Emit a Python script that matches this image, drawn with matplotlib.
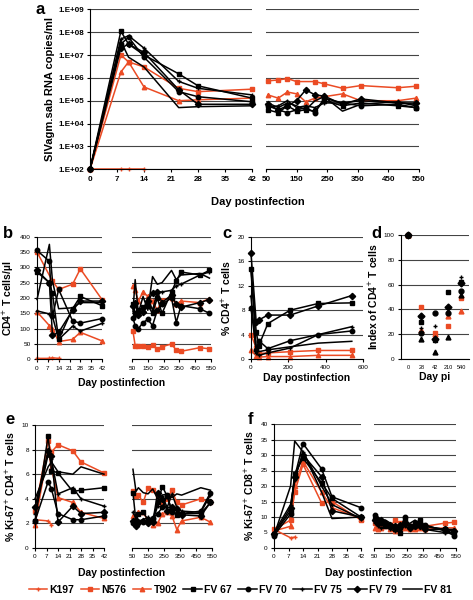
import numpy as np
import matplotlib
matplotlib.use('Agg')
import matplotlib.pyplot as plt

plt.rcParams['font.family'] = ['Liberation Sans', 'DejaVu Sans']

W, H = 473, 600
ORANGE = '#EB4B24'

animals = ['K197', 'N576', 'T902', 'FV 67', 'FV 70', 'FV 75', 'FV 79', 'FV 81']
colors = [ORANGE, ORANGE, ORANGE, 'black', 'black', 'black', 'black', 'black']
markers = ['+', 's', '^', 's', 'o', '+', 'D', '']
nan = np.nan

# ---- panel a: viral load (RNA copies/ml) ----
a_days_left = [0, 8, 10, 14, 23, 28, 42]
a_left = {
    'K197': [1e2, 1e2, 1e2, 1e2, nan, nan, nan],
    'N576': [1e2, 1e7, 5e6, 3e6, 3.5e5, 2.5e5, 3.2e5],
    'T902': [1e2, 1.8e6, 5e6, 4e5, 1e5, 1.1e5, 1.3e5],
    'FV 67': [1e2, 1.1e8, 3e7, 1e7, 1.5e6, 4.5e5, 1.3e5],
    'FV 70': [1e2, 3e7, 6e7, 8e6, 2.5e5, 1.5e5, 9e4],
    'FV 75': [1e2, 5e7, 7e7, 2e7, 7e5, 3.5e5, 1.8e5],
    'FV 79': [1e2, 2e7, 3e7, 1.3e7, 3e5, 7e4, 7e4],
    'FV 81': [1e2, 4e7, 8e6, 3e6, 5e4, 5.5e4, 6e4],
}
a_days_right = [56, 90, 120, 150, 180, 210, 240, 300, 360, 480, 540]
a_right = {
    'N576': [7.4e5, 8.1e5, 9.3e5, 6.9e5, nan, 6.9e5, 5.5e5, 3.5e5, 4.6e5, 3.7e5, 4.3e5],
    'T902': [1.8e5, 1.3e5, 2.4e5, 2e5, 9e4, 1.3e5, 1.5e5, 2e5, 1e5, 1e5, 1.3e5],
    'FV 67': [4e4, 3e4, 6e4, 3.5e4, 4e4, 3.5e4, 1e5, 6e4, 8e4, 6e4, 5e4],
    'FV 70': [6e4, 4e4, 3e4, 4e4, 5e4, 3e4, 1.3e5, 8e4, 6e4, 7e4, 5e4],
    'FV 75': [5e4, 6e4, 1e5, 5e4, 6e4, 5e4, 8e4, 8e4, 1e5, 8e4, 7e4],
    'FV 79': [7e4, 4e4, 6e4, 1e5, 3e5, 1.8e5, 1.6e5, 7e4, 1.2e5, 8e4, 8e4],
    'FV 81': [8e4, 5e4, 8e4, 6e4, 4e4, 1e5, 1.5e5, 3.5e4, 7e4, 9e4, 6e4],
}
a_yticks = [1e2, 1e3, 1e4, 1e5, 1e6, 1e7, 1e8, 1e9]
a_yticklabels = ['1.E+02', '1.E+03', '1.E+04', '1.E+05', '1.E+06', '1.E+07', '1.E+08', '1.E+09']

# ---- panel b: CD4 counts ----
b_days_left = [0, 8, 10, 14, 23, 28, 42]
b_left = {
    'K197': [3, 3, 5, 3, nan, nan, nan],
    'N576': [350, nan, 255, 228, 245, 295, 195],
    'T902': [155, 110, 100, 58, 65, 88, 60],
    'FV 67': [285, 250, 215, 65, 165, 205, 175],
    'FV 70': [355, 320, 140, 228, 125, 118, 133],
    'FV 75': [158, 148, 140, 65, 108, 92, 117],
    'FV 79': [290, 250, 78, 88, 160, 190, 190],
    'FV 81': [195, 375, 255, 165, 168, 185, 185],
}
b_days_right = [56, 70, 90, 120, 150, 180, 210, 240, 300, 330, 360, 480, 540]
b_right = {
    'N576': [92, 45, 42, 42, 40, 46, 33, 41, 50, 30, 26, 38, 34],
    'T902': [240, 225, 190, 220, 205, 190, 160, 195, 200, 180, 190, 185, 198],
    'FV 67': [180, 150, 160, 170, 175, 150, 200, 150, 220, 255, 285, 275, 290],
    'FV 70': [135, 110, 100, 120, 130, 110, 160, 180, 200, 120, 175, 165, 150],
    'FV 75': [180, 140, 150, 160, 200, 160, 220, 220, 225, 240, 245, 275, 285],
    'FV 79': [175, 185, 145, 155, 190, 215, 220, 185, 210, 180, 170, 185, 195],
    'FV 81': [155, 260, 150, 205, 160, 270, 245, 250, 290, 260, 275, 280, 265],
}

# ---- panel c: % CD4 T cells ----
c_days = [0, 28, 42, 90, 210, 360, 540]
c_vals = {
    'N576': [4.0, 1.8, 0.9, 1.0, 1.2, 1.4, 1.4],
    'T902': [1.4, 0.5, 0.3, 0.4, 0.4, 0.6, 0.6],
    'FV 67': [14.8, 4.4, 2.2, 5.8, 8.0, 9.1, 9.2],
    'FV 70': [8.3, 1.5, 3.0, 1.7, 3.0, 4.0, 4.6],
    'FV 75': [10.3, 1.0, 0.6, 1.0, 1.8, 4.0, 5.3],
    'FV 79': [17.3, 6.0, 6.4, 7.2, 7.2, 8.7, 10.4],
    'FV 81': [14.5, 2.0, 1.2, 1.5, 2.0, 2.6, 2.9],
}

# ---- panel d: index of CD4 T cells ----
d_cats = ['0', '28', '42', '210', '540']
d_vals = {
    'N576': [100, 42, 21, 27, 49],
    'T902': [100, 23, 20, 35, 39],
    'FV 67': [100, 30, 15, 54, 62],
    'FV 70': [100, 21, 37, 37, 55],
    'FV 75': [100, 25, 27, 42, 66],
    'FV 79': [100, 35, 16, 42, 61],
    'FV 81': [100, 16, 6, 18, 52],
}

# ---- panel e: % Ki-67+ CD4+ ----
e_days_left = [0, 8, 10, 14, 23, 28, 42]
e_left = {
    'K197': [2.3, 2.2, 1.9, nan, nan, nan, nan],
    'N576': [3.0, 8.7, 7.8, 8.4, 7.9, 7.0, 6.1],
    'T902': [1.9, 8.0, 6.5, 4.1, 3.7, 2.9, 2.4],
    'FV 67': [2.2, 9.1, 6.3, 6.1, 4.6, 4.7, 4.9],
    'FV 70': [2.2, 5.4, 4.8, 2.8, 2.3, 2.3, 2.6],
    'FV 75': [2.8, 7.6, 7.2, 4.4, 4.9, 4.0, 3.4],
    'FV 79': [3.3, 7.9, 7.5, 2.1, 3.4, 2.8, 2.9],
    'FV 81': [4.0, 6.6, 7.0, 6.2, 6.0, 6.6, 6.0],
}
ef_days_right = [56, 75, 90, 120, 150, 180, 210, 240, 270, 300, 330, 360, 480, 540]
e_right = {
    'N576': [4.6, 4.2, 4.3, 3.7, 4.9, 4.7, 4.2, 3.5, 4.0, 4.7, 3.7, 3.5, 4.0, 3.7],
    'T902': [2.6, 2.3, 2.9, 2.9, 2.2, 1.9, 2.0, 2.8, 2.9, 2.6, 1.5, 2.2, 2.5, 2.1],
    'FV 67': [4.5, 2.1, 2.8, 2.9, 2.3, 2.3, 3.7, 5.0, 4.2, 3.0, 2.7, 2.8, 2.8, 3.7],
    'FV 70': [2.0, 2.2, 2.0, 2.1, 2.1, 2.4, 2.8, 3.3, 4.3, 2.9, 2.8, 2.8, 3.0, 4.5],
    'FV 75': [2.9, 2.4, 2.2, 2.3, 2.5, 2.2, 3.4, 4.2, 3.3, 4.4, 3.3, 3.0, 2.9, 4.3],
    'FV 79': [2.2, 1.8, 2.1, 2.2, 2.0, 2.1, 4.5, 4.0, 3.0, 3.3, 3.2, 2.7, 2.6, 3.7],
    'FV 81': [6.4, 4.6, 4.9, 4.5, 4.4, 4.8, 4.0, 4.3, 4.4, 4.1, 4.4, 4.3, 4.9, 4.7],
}

# ---- panel f: % Ki-67+ CD8+ ----
f_days_left = [0, 8, 10, 14, 23, 28, 42]
f_left = {
    'K197': [6, 3.3, 3.5, nan, nan, nan, nan],
    'N576': [6, 9, 18, 27, 14.5, 15, 9],
    'T902': [5.5, 7, 20, 28, 18, 13, 9.5],
    'FV 67': [4.5, 12, 24, 29, 21, 16, 10],
    'FV 70': [4, 11, 23, 33.7, 25.5, 16.5, 13],
    'FV 75': [5, 14, 22, 31, 20, 14, 9.5],
    'FV 79': [4.5, 13, 23, 30, 23, 12, 10],
    'FV 81': [4, 20, 34.5, 31, 18, 9.5, 10],
}
f_right = {
    'N576': [8, 7, 7.5, 8, 7, 9, 8, 7.5, 7, 6.5, 7, 7, 8, 8.3],
    'T902': [6.5, 6, 6.5, 7, 6, 5.5, 6, 6.5, 6, 6, 6.5, 6, 6.5, 6.5],
    'FV 67': [9.5, 8, 8.5, 7, 7, 6, 5, 9, 7, 8, 9, 7, 6, 4.5],
    'FV 70': [10.5, 9, 8, 8, 7, 6.5, 6.5, 10, 7, 7, 8, 7.5, 5.5, 4],
    'FV 75': [8, 7, 6.5, 7, 6, 5.5, 6, 7, 6, 8, 7, 6, 5, 5],
    'FV 79': [9, 8.5, 9, 8, 7.5, 7, 7.5, 8, 6.5, 7, 7, 6, 6, 5.5],
    'FV 81': [11, 10, 9, 9, 8, 7, 7, 8, 8, 9, 8, 7, 6, 6],
}

left_xticks = [0, 7, 14, 21, 28, 35, 42]
right_xticks = [50, 150, 250, 350, 450, 550]


def rect(x0, y0, x1, y1):
    return [x0 / W, 1 - y1 / H, (x1 - x0) / W, (y1 - y0) / H]


def style(ax, yt, fs, bold=False, keep_left=True):
    ax.spines['top'].set_visible(False)
    ax.spines['right'].set_visible(False)
    ax.spines['left'].set_visible(keep_left)
    ax.set_yticks(yt)
    ax.yaxis.grid(True, color='#444444', lw=0.8)
    ax.set_axisbelow(True)
    ax.tick_params(direction='out', length=2.5, width=0.8, labelsize=fs, pad=2)
    if not keep_left:
        ax.tick_params(axis='y', length=0, labelleft=False)
    if bold:
        for lab in ax.get_xticklabels() + ax.get_yticklabels():
            lab.set_fontweight('bold')


def draw_lines(ax, days, data, ms=3.2):
    days = np.asarray(days, dtype=float)
    for name, col, mk in zip(animals, colors, markers):
        if name not in data:
            continue
        v = np.asarray(data[name], dtype=float)
        ok = np.isfinite(v)
        ax.plot(days[ok], v[ok], color=col, marker=mk, ms=ms, lw=1.1, mew=1.0,
                label=name, clip_on=False)


def split_panel(lrect, rrect, dl, vl, dr, vr, ylim, yt, fs, log=False, bold=False):
    axl = fig.add_axes(rect(*lrect))
    axr = fig.add_axes(rect(*rrect))
    for ax in (axl, axr):
        if log:
            ax.set_yscale('log')
        ax.set_ylim(*ylim)
    draw_lines(axl, dl, vl)
    draw_lines(axr, dr, vr)
    axl.set_xlim(0, 42)
    axr.set_xlim(50, 550)
    axl.set_xticks(left_xticks)
    axr.set_xticks(right_xticks)
    style(axl, yt, fs, bold)
    style(axr, yt, fs, bold, keep_left=False)
    axl.minorticks_off()
    axr.minorticks_off()
    return axl, axr


fig = plt.figure(figsize=(W / 100, H / 100), dpi=100)

# a
axl, axr = split_panel((90, 9.3, 252, 169.3), (266, 9.3, 419, 169.3),
                       a_days_left, a_left, a_days_right, a_right,
                       (1e2, 1e9), a_yticks, 5.8, log=True, bold=True)
axl.set_yticklabels(a_yticklabels)
for lab in axl.get_yticklabels():
    lab.set_fontweight('bold')
axl.set_ylabel('SIVagm.sab RNA copies/ml', fontsize=8, fontweight='bold', labelpad=2)
fig.text(258 / W, 1 - 202 / H, 'Day postinfection', fontsize=8, fontweight='bold',
         ha='center', va='center')
fig.text(40 / W, 1 - 9 / H, 'a', fontsize=12, fontweight='bold', ha='center', va='center')
legend_handles = axl.get_lines()

# b
axl, axr = split_panel((37, 236.7, 102, 359.3), (132, 236.7, 211, 359.3),
                       b_days_left, b_left, b_days_right, b_right,
                       (0, 400), list(range(0, 401, 50)), 4.6)
axl.set_ylabel(r'CD4$^{+}$ T cells/µl', fontsize=7.5, fontweight='bold', labelpad=3)
fig.text(122 / W, 1 - 383 / H, 'Day postinfection', fontsize=7.5, fontweight='bold',
         ha='center', va='center')
fig.text(8 / W, 1 - 233 / H, 'b', fontsize=12, fontweight='bold', ha='center', va='center')

# c
axc = fig.add_axes(rect(251, 237, 363, 359))
draw_lines(axc, c_days, c_vals)
axc.set_xlim(0, 600)
axc.set_ylim(0, 20)
axc.set_xticks([0, 200, 400, 600])
style(axc, [0, 4, 8, 12, 16, 20], 4.6)
axc.set_ylabel(r'% CD4$^{+}$ T cells', fontsize=7.5, fontweight='bold', labelpad=3)
axc.set_xlabel('Day postinfection', fontsize=7.5, fontweight='bold', labelpad=2)
fig.text(227 / W, 1 - 233 / H, 'c', fontsize=12, fontweight='bold', ha='center', va='center')

# d
axd = fig.add_axes(rect(401, 235, 469, 359))
xpos = np.arange(len(d_cats))
for name, col, mk in zip(animals, colors, markers):
    if name not in d_vals:
        continue
    m = '^' if name == 'FV 81' else mk
    axd.plot(xpos, d_vals[name], ls='none', marker=m, color=col, ms=3.5, mew=1.0,
             clip_on=False)
axd.set_xlim(-0.55, 4.6)
axd.set_ylim(0, 100)
axd.set_xticks(xpos)
axd.set_xticklabels(d_cats)
style(axd, [0, 20, 40, 60, 80, 100], 4.6)
axd.tick_params(axis='x', labelsize=4.0, length=0, pad=4)
axd.set_ylabel(r'Index of CD4$^{+}$ T cells', fontsize=7.5, fontweight='bold', labelpad=3)
axd.set_xlabel('Day pi', fontsize=7.5, fontweight='bold', labelpad=2)
fig.text(376 / W, 1 - 233 / H, 'd', fontsize=12, fontweight='bold', ha='center', va='center')

# e
axl, axr = split_panel((35, 425, 104, 548), (132, 425, 212, 548),
                       e_days_left, e_left, ef_days_right, e_right,
                       (0, 10), [0, 2, 4, 6, 8, 10], 4.6)
axl.set_ylabel(r'% Ki-67$^{+}$ CD4$^{+}$ T cells', fontsize=7.5, fontweight='bold', labelpad=3)
fig.text(122 / W, 1 - 573 / H, 'Day postinfection', fontsize=7.5, fontweight='bold',
         ha='center', va='center')
fig.text(10 / W, 1 - 420 / H, 'e', fontsize=12, fontweight='bold', ha='center', va='center')

# f
axl, axr = split_panel((274, 424, 361, 548), (374, 424, 456, 548),
                       f_days_left, f_left, ef_days_right, f_right,
                       (0, 40), list(range(0, 41, 5)), 4.6)
axl.set_ylabel(r'% Ki-67$^{+}$ CD8$^{+}$ T cells', fontsize=7.5, fontweight='bold', labelpad=3)
fig.text(369 / W, 1 - 573 / H, 'Day postinfection', fontsize=7.5, fontweight='bold',
         ha='center', va='center')
fig.text(250 / W, 1 - 420 / H, 'f', fontsize=12, fontweight='bold', ha='center', va='center')

# legend
fig.legend(handles=legend_handles, labels=animals, loc='center', ncol=8,
           bbox_to_anchor=(240 / W, 1 - 590 / H), frameon=False,
           prop={'weight': 'bold', 'size': 7.5}, handlelength=1.8,
           handletextpad=0.2, columnspacing=0.6, borderpad=0)

fig.savefig('out.png', dpi=100)
